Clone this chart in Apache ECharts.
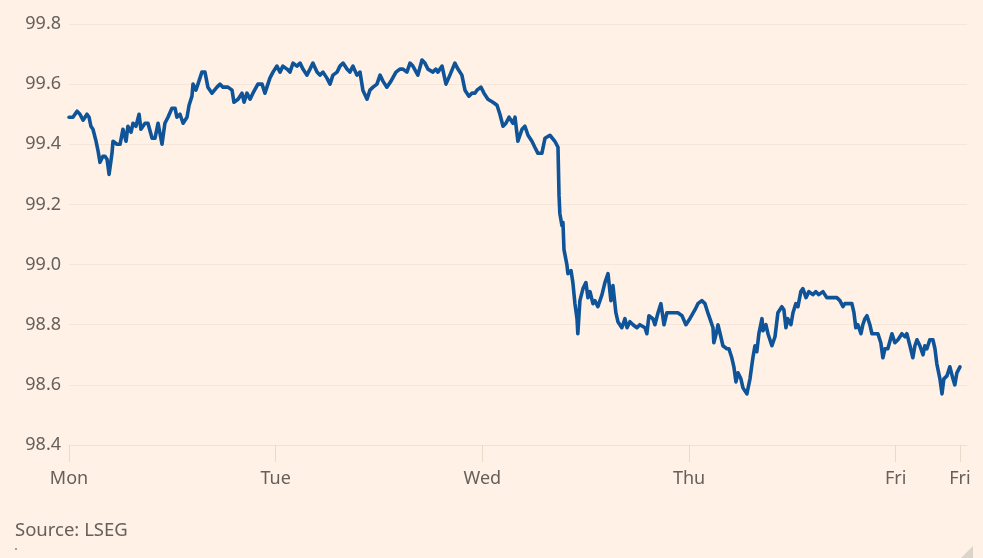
<!DOCTYPE html>
<html>
<head>
<meta charset="utf-8">
<title>Index</title>
<script src="https://cdn.jsdelivr.net/npm/echarts@6/dist/echarts.min.js"></script>
<style>
  html, body { margin: 0; padding: 0; background: #FFF1E5; }
  #chart { width: 983px; height: 558px; }
</style>
</head>
<body>
<div id="chart"></div>
<script>
// time in days since Monday's open, value of the index
var days = [
  0.000, 0.019, 0.039, 0.053, 0.068, 0.087, 0.097, 0.106, 0.116, 0.131,
  0.140, 0.150, 0.164, 0.174, 0.184, 0.194, 0.208, 0.213, 0.232, 0.247,
  0.261, 0.276, 0.285, 0.300, 0.310, 0.324, 0.339, 0.348, 0.368, 0.382,
  0.402, 0.416, 0.431, 0.450, 0.464, 0.479, 0.498, 0.513, 0.522, 0.537,
  0.552, 0.571, 0.581, 0.595, 0.600, 0.614, 0.624, 0.643, 0.658, 0.672,
  0.692, 0.716, 0.731, 0.745, 0.769, 0.789, 0.798, 0.818, 0.837, 0.847,
  0.861, 0.876, 0.890, 0.914, 0.934, 0.948, 0.972, 0.987, 1.006, 1.021,
  1.035, 1.055, 1.069, 1.084, 1.103, 1.118, 1.132, 1.151, 1.166, 1.180,
  1.200, 1.214, 1.229, 1.248, 1.263, 1.277, 1.297, 1.311, 1.326, 1.345,
  1.359, 1.374, 1.393, 1.408, 1.422, 1.442, 1.456, 1.471, 1.490, 1.505,
  1.519, 1.538, 1.558, 1.567, 1.582, 1.601, 1.616, 1.635, 1.650, 1.664,
  1.688, 1.708, 1.722, 1.737, 1.761, 1.775, 1.785, 1.805, 1.824, 1.843,
  1.867, 1.882, 1.901, 1.916, 1.935, 1.950, 1.964, 1.974, 1.993, 2.008,
  2.027, 2.051, 2.071, 2.085, 2.100, 2.114, 2.129, 2.148, 2.158, 2.172,
  2.192, 2.206, 2.221, 2.240, 2.254, 2.269, 2.288, 2.303, 2.327, 2.351,
  2.366, 2.371, 2.375, 2.385, 2.390, 2.395, 2.409, 2.414, 2.429, 2.438,
  2.448, 2.458, 2.462, 2.472, 2.487, 2.501, 2.511, 2.521, 2.535, 2.545,
  2.559, 2.579, 2.593, 2.608, 2.622, 2.632, 2.646, 2.656, 2.675, 2.690,
  2.700, 2.714, 2.729, 2.748, 2.762, 2.787, 2.796, 2.806, 2.825, 2.835,
  2.850, 2.864, 2.879, 2.893, 2.912, 2.927, 2.946, 2.966, 2.985, 3.004,
  3.029, 3.043, 3.062, 3.077, 3.091, 3.101, 3.116, 3.120, 3.135, 3.140,
  3.154, 3.164, 3.183, 3.193, 3.207, 3.217, 3.227, 3.237, 3.251, 3.261,
  3.280, 3.295, 3.309, 3.319, 3.328, 3.338, 3.353, 3.358, 3.372, 3.382,
  3.401, 3.416, 3.430, 3.449, 3.459, 3.469, 3.478, 3.493, 3.503, 3.517,
  3.527, 3.541, 3.551, 3.566, 3.580, 3.599, 3.614, 3.628, 3.648, 3.667,
  3.691, 3.715, 3.730, 3.745, 3.754, 3.769, 3.788, 3.798, 3.807, 3.817,
  3.832, 3.841, 3.851, 3.861, 3.875, 3.885, 3.899, 3.914, 3.928, 3.938,
  3.948, 3.962, 3.982, 3.996, 4.011, 4.030, 4.045, 4.054, 4.069, 4.083,
  4.093, 4.103, 4.117, 4.132, 4.141, 4.151, 4.165, 4.180, 4.190, 4.199,
  4.214, 4.224, 4.233, 4.248, 4.262, 4.277, 4.286, 4.296, 4.311
];
var values = [
  99.49, 99.49, 99.51, 99.50, 99.48, 99.50, 99.49, 99.46, 99.45, 99.41,
  99.38, 99.34, 99.36, 99.36, 99.35, 99.30, 99.37, 99.41, 99.40, 99.40,
  99.45, 99.41, 99.46, 99.44, 99.47, 99.46, 99.50, 99.45, 99.47, 99.47,
  99.42, 99.42, 99.47, 99.40, 99.47, 99.49, 99.52, 99.52, 99.49, 99.50,
  99.47, 99.49, 99.53, 99.56, 99.60, 99.58, 99.60, 99.64, 99.64, 99.59,
  99.57, 99.59, 99.60, 99.59, 99.59, 99.58, 99.54, 99.55, 99.57, 99.54,
  99.57, 99.55, 99.57, 99.60, 99.60, 99.57, 99.62, 99.64, 99.66, 99.64,
  99.66, 99.65, 99.64, 99.67, 99.66, 99.67, 99.65, 99.63, 99.65, 99.67,
  99.64, 99.63, 99.64, 99.62, 99.60, 99.63, 99.64, 99.66, 99.67, 99.65,
  99.64, 99.66, 99.63, 99.64, 99.58, 99.55, 99.58, 99.59, 99.60, 99.63,
  99.61, 99.59, 99.61, 99.61, 99.64, 99.65, 99.65, 99.64, 99.67, 99.66,
  99.63, 99.68, 99.67, 99.65, 99.64, 99.65, 99.64, 99.66, 99.60, 99.63,
  99.67, 99.65, 99.63, 99.58, 99.56, 99.57, 99.57, 99.58, 99.59, 99.57,
  99.55, 99.54, 99.53, 99.50, 99.46, 99.47, 99.49, 99.47, 99.49, 99.41,
  99.45, 99.46, 99.43, 99.41, 99.39, 99.37, 99.37, 99.42, 99.43, 99.41,
  99.39, 99.23, 99.17, 99.13, 99.14, 99.05, 99.00, 98.97, 98.98, 98.94,
  98.87, 98.82, 98.77, 98.88, 98.92, 98.94, 98.89, 98.91, 98.87, 98.88,
  98.86, 98.90, 98.94, 98.97, 98.88, 98.93, 98.84, 98.81, 98.79, 98.82,
  98.79, 98.81, 98.80, 98.79, 98.80, 98.79, 98.77, 98.83, 98.82, 98.80,
  98.84, 98.87, 98.80, 98.84, 98.84, 98.84, 98.84, 98.83, 98.80, 98.82,
  98.85, 98.87, 98.88, 98.87, 98.84, 98.82, 98.79, 98.74, 98.78, 98.80,
  98.76, 98.73, 98.72, 98.72, 98.69, 98.66, 98.61, 98.64, 98.62, 98.59,
  98.57, 98.62, 98.69, 98.73, 98.71, 98.77, 98.82, 98.78, 98.80, 98.77,
  98.73, 98.76, 98.84, 98.86, 98.85, 98.79, 98.82, 98.80, 98.84, 98.87,
  98.86, 98.91, 98.92, 98.89, 98.91, 98.90, 98.91, 98.90, 98.91, 98.89,
  98.89, 98.89, 98.88, 98.86, 98.87, 98.87, 98.87, 98.84, 98.79, 98.80,
  98.77, 98.80, 98.82, 98.83, 98.80, 98.77, 98.77, 98.77, 98.74, 98.69,
  98.72, 98.72, 98.77, 98.74, 98.75, 98.77, 98.76, 98.77, 98.73, 98.69,
  98.73, 98.75, 98.73, 98.70, 98.73, 98.72, 98.75, 98.75, 98.72, 98.67,
  98.62, 98.57, 98.62, 98.63, 98.66, 98.62, 98.60, 98.64, 98.66
];
var tickDays = [0, 1, 2, 3, 4, 4.311];
var tickLabels = ['Mon', 'Tue', 'Wed', 'Thu', 'Fri', 'Fri'];

var textColor = '#66605C';
var font = 'Noto Sans';

var points = [];
for (var i = 0; i < days.length; i++) {
    points.push([days[i], values[i]]);
}

var chart = echarts.init(document.getElementById('chart'));
var option = {
    backgroundColor: '#FFF1E5',
    animation: false,
    textStyle: { fontFamily: font },
    grid: { left: 69, right: 16, top: 24, bottom: 113 },
    xAxis: {
        type: 'value',
        min: 0,
        max: 4.345,
        axisLine: { show: true, lineStyle: { color: '#F2E1D3', width: 1 } },
        axisTick: {
            show: true,
            customValues: tickDays,
            length: 17,
            inside: false,
            lineStyle: { color: '#EBD9CA' }
        },
        axisLabel: {
            customValues: tickDays,
            formatter: function (v) {
                var idx = tickDays.indexOf(v);
                return idx >= 0 ? tickLabels[idx] : '';
            },
            color: textColor,
            fontSize: 18,
            fontFamily: font,
            margin: 25
        },
        splitLine: { show: false }
    },
    yAxis: {
        type: 'value',
        min: 98.4,
        max: 99.8,
        interval: 0.2,
        axisLine: { show: false },
        axisTick: { show: false },
        axisLabel: {
            formatter: function (v) { return v.toFixed(1); },
            color: textColor,
            fontSize: 18,
            fontFamily: font,
            margin: 8
        },
        splitLine: { lineStyle: { color: '#F5E6D9', width: 1 } }
    },
    graphic: [
        {
            type: 'text',
            left: 15,
            top: 521,
            style: { text: 'Source: LSEG', fill: textColor, font: '18.5px "Noto Sans"' }
        },
        {
            type: 'circle',
            shape: { cx: 16, cy: 549, r: 1 },
            style: { fill: '#8a827c' }
        },
        {
            type: 'polygon',
            shape: { points: [[973, 546], [973, 558], [961, 558]] },
            style: { fill: '#DCD3CA' }
        }
    ],
    series: [
        {
            type: 'line',
            data: points,
            showSymbol: false,
            lineStyle: { color: '#0F5499', width: 3.6, join: 'round', cap: 'round' },
            itemStyle: { color: '#0F5499' }
        }
    ]
};
chart.setOption(option);
</script>
</body>
</html>
